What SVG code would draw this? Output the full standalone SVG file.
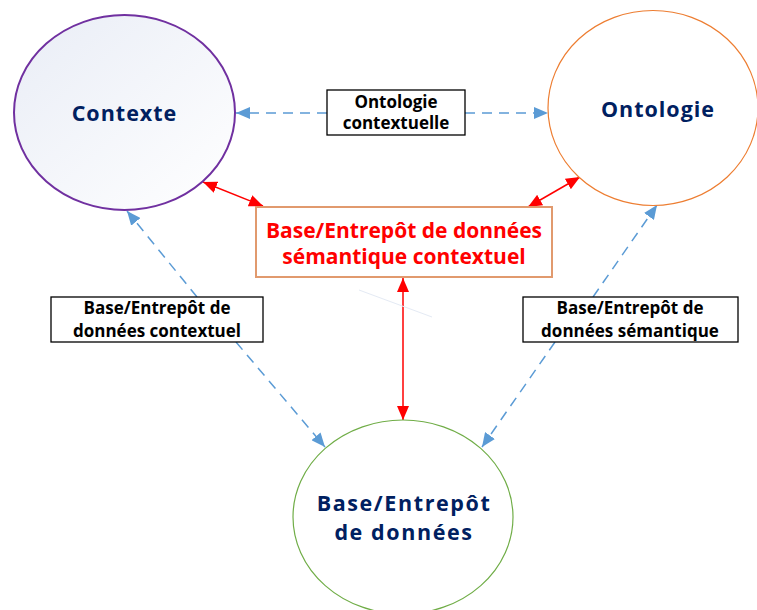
<svg xmlns="http://www.w3.org/2000/svg" width="757" height="610" viewBox="0 0 757 610">
<defs>
<linearGradient id="gCtx" x1="0" y1="0" x2="1" y2="1">
<stop offset="0" stop-color="#E9EDF6"/>
<stop offset="1" stop-color="#FFFFFF"/>
</linearGradient>
<marker id="aBlue" viewBox="0 0 10 10" refX="10" refY="5" markerWidth="14" markerHeight="12" markerUnits="userSpaceOnUse" orient="auto-start-reverse" preserveAspectRatio="none">
<path d="M0,0 L10,5 L0,10 z" fill="#5B9BD5"/>
</marker>
<marker id="aRed" viewBox="0 0 10 10" refX="10" refY="5" markerWidth="14" markerHeight="12" markerUnits="userSpaceOnUse" orient="auto-start-reverse" preserveAspectRatio="none">
<path d="M0,0 L10,5 L0,10 z" fill="#FF0000"/>
</marker>
</defs>
<style>
text{font-family:"Open Sans","Liberation Sans",sans-serif;font-weight:bold;text-anchor:middle}
.node{font-size:21.5px;fill:#002060}
.lbl{font-size:17px;fill:#000}
.red{font-size:21px;fill:#FF0000}
.dash{stroke:#5B9BD5;stroke-width:1.5;stroke-dasharray:10 7;fill:none;marker-end:url(#aBlue)}
.redl{stroke:#FF0000;stroke-width:1.5;fill:none;marker-start:url(#aRed);marker-end:url(#aRed)}
.box{fill:#fff;stroke:#000;stroke-width:1.3}
</style>
<rect width="757" height="610" fill="#fff"/>
<g id="connectors">
<line class="dash" x1="327" y1="113" x2="236" y2="113"/>
<line class="dash" x1="465" y1="113" x2="548" y2="113"/>
<line class="dash" x1="197" y1="297" x2="127" y2="211"/>
<line class="dash" x1="236" y1="342" x2="325" y2="447"/>
<line class="dash" x1="593" y1="297" x2="657" y2="205"/>
<line class="dash" x1="555" y1="342" x2="482" y2="447"/>
<line class="redl" x1="203" y1="182" x2="263" y2="206"/>
<line class="redl" x1="580" y1="177" x2="528" y2="207"/>
<line class="redl" x1="403" y1="278" x2="403" y2="420"/>
<line x1="359" y1="290" x2="432" y2="317" stroke="#E4EAF4" stroke-width="1"/>
</g>
<g id="contexte">
<ellipse cx="124.5" cy="112.5" rx="110.5" ry="97.5" fill="url(#gCtx)" stroke="#7030A0" stroke-width="2"/>
<text class="node" x="124.5" y="121" letter-spacing="1">Contexte</text>
</g>
<g id="ontologie">
<ellipse cx="653" cy="108" rx="105" ry="97.5" fill="#fff" stroke="#ED7D31" stroke-width="1.2"/>
<text class="node" x="658" y="117" letter-spacing="1">Ontologie</text>
</g>
<g id="base">
<ellipse cx="403" cy="517" rx="110" ry="97" fill="#fff" stroke="#70AD47" stroke-width="1.2"/>
<text class="node" x="404" y="511" letter-spacing="1.6">Base/Entrepôt</text>
<text class="node" x="404" y="540" letter-spacing="1.6">de données</text>
</g>
<g id="semantique-contextuel">
<rect x="256" y="207" width="296" height="70" fill="#fff" stroke="#E19A6E" stroke-width="2"/>
<text class="red" x="404" y="238">Base/Entrepôt de données</text>
<text class="red" x="404" y="264">sémantique contextuel</text>
</g>
<g id="label-ontologie-contextuelle">
<rect class="box" x="327" y="90" width="138" height="45"/>
<text class="lbl" x="396" y="108">Ontologie</text>
<text class="lbl" x="396" y="129">contextuelle</text>
</g>
<g id="label-contextuel">
<rect class="box" x="51" y="297" width="212" height="45"/>
<text class="lbl" x="157" y="314">Base/Entrepôt de</text>
<text class="lbl" x="157" y="337">données contextuel</text>
</g>
<g id="label-semantique">
<rect class="box" x="523" y="297" width="215" height="45"/>
<text class="lbl" x="630" y="314">Base/Entrepôt de</text>
<text class="lbl" x="630" y="337">données sémantique</text>
</g>
</svg>
